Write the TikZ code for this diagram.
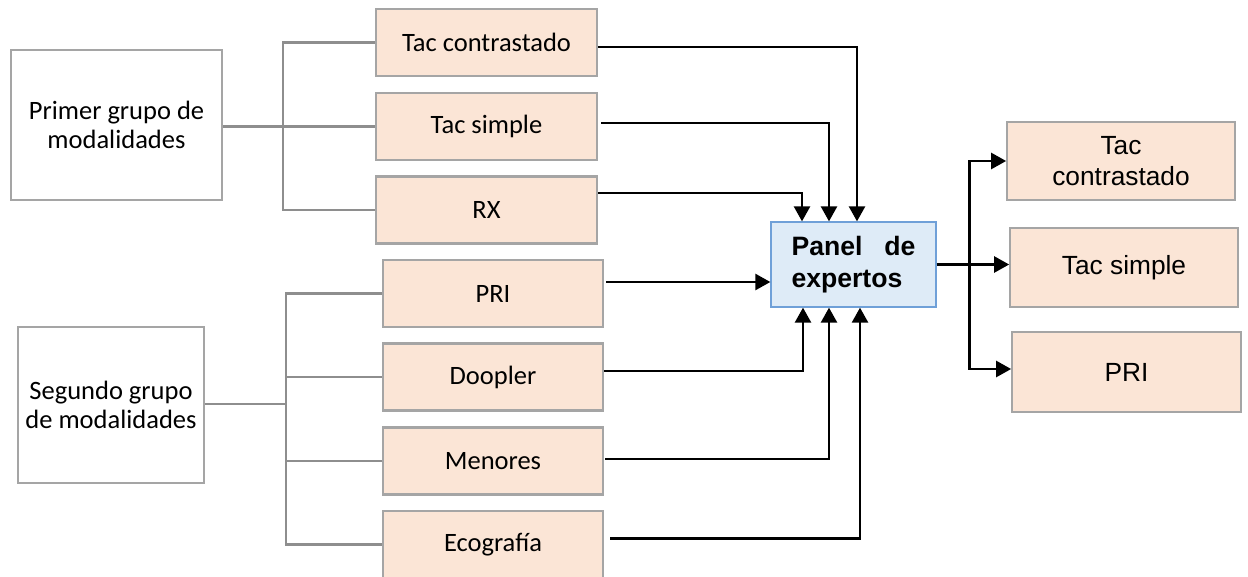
\documentclass[tikz,border=0pt]{standalone}
\usepackage{fontspec}
\setmainfont{Carlito}
\newfontfamily\arialf{Liberation Sans}
\usetikzlibrary{arrows.meta}
\definecolor{peach}{HTML}{FBE5D6}
\definecolor{boxgray}{HTML}{A5A5A5}
\definecolor{linegray}{HTML}{8E8E8E}
\definecolor{panelfill}{HTML}{DEEBF7}
\definecolor{panelline}{HTML}{6FA0D8}
\tikzset{
  groupbox/.style={draw=boxgray, line width=2.3pt, fill=white, align=center,
    font=\fontsize{26.5}{29}\selectfont, inner sep=0pt},
  modbox/.style={draw=boxgray, line width=2.3pt, fill=peach, align=center,
    font=\fontsize{26.5}{29}\selectfont, minimum width=220pt, minimum height=67pt, inner sep=0pt},
  outbox/.style={draw=boxgray, line width=1.7pt, fill=peach, align=center,
    font=\arialf\fontsize{26.3}{31}\selectfont, minimum width=228pt, minimum height=79pt, inner sep=0pt},
  panelbox/.style={draw=panelline, line width=1.3pt, fill=panelfill, align=justify,
    font=\arialf\bfseries\fontsize{26.6}{32}\selectfont, text width=124pt,
    inner xsep=20.5pt, minimum height=85pt},
  branch/.style={draw=linegray, line width=2.6pt, line join=miter},
  arr/.style={draw=black, line width=2.5pt, line join=miter,
    -{Triangle[length=15pt,width=16pt]}}
}
\begin{document}
\begin{tikzpicture}[x=1pt,y=-1pt]
\useasboundingbox (0,0) rectangle (1248,576);
\clip (0,0) rectangle (1248,576);

% modality groups
\node[groupbox, minimum width=211pt, minimum height=150pt] (g1) at (116.5,125) {Primer grupo de\\modalidades};
\node[groupbox, minimum width=186pt, minimum height=156pt] (g2) at (111,405) {Segundo grupo\\de modalidades};

% first group
\node[modbox, minimum width=221pt] (tc) at (486.5,42.5) {Tac contrastado};
\node[modbox, minimum width=221pt] (ts) at (486.5,126.5) {Tac simple};
\node[modbox, minimum width=221pt] (rx) at (486.5,210) {RX};

% second group
\node[modbox] (pri) at (493,293.5) {PRI};
\node[modbox] (doo) at (493,377) {Doopler};
\node[modbox] (men) at (493,461) {Menores};
\node[modbox] (eco) at (493,544.5) {Ecografía};

% expert panel
\node[panelbox] (panel) at (853.5,264.5) {Panel de expertos};

% outcomes
\node[outbox, minimum height=78pt] (rtc) at (1121,161) {Tac\\contrastado};
\node[outbox] (rts) at (1124,267.5) {Tac simple};
\node[outbox, minimum width=229pt, minimum height=80pt] (rpri) at (1126.5,372) {PRI};

% brackets
\coordinate (b1) at (283,126.5);
\draw[branch] (g1.east |- b1) -- (b1);
\draw[branch] (tc.west) -| (b1);
\draw[branch] (ts.west) -- (b1);
\draw[branch] (rx.west) -| (b1);

\coordinate (b2) at (286,404);
\draw[branch] (g2.east |- b2) -- (b2);
\draw[branch] (pri.west) -| (b2);
\draw[branch] (doo.west) -| (b2);
\draw[branch] (men.west) -| (b2);
\draw[branch] (eco.west) -| (b2);

% inputs to the panel
\draw[arr] ([yshift=-4.5pt]tc.east) -| ([xshift=3.5pt]panel.north);
\draw[arr] ([xshift=3pt,yshift=3.5pt]ts.east) -| ([xshift=-24.5pt]panel.north);
\draw[arr] ([yshift=17pt]rx.east) -| ([xshift=-51.5pt]panel.north);
\draw[arr] ([xshift=2pt,yshift=11.5pt]pri.east) -- ([yshift=11.5pt]pri.east -| panel.west);
\draw[arr] ([yshift=6pt]doo.east) -| ([xshift=-50.5pt]panel.south);
\draw[arr] ([xshift=1pt,yshift=2pt]men.east) -| ([xshift=-24.5pt]panel.south);
\draw[arr] ([xshift=6pt,yshift=6pt]eco.east) -| ([xshift=6.5pt]panel.south);

% outputs of the panel
\coordinate (sp) at ([xshift=33pt]panel.east);
\draw[arr] (panel.east) -- (panel.east -| rts.west);
\draw[arr] (sp) |- (rtc.west);
\draw[arr] (sp) |- ([yshift=3pt]rpri.west);
\end{tikzpicture}
\end{document}
